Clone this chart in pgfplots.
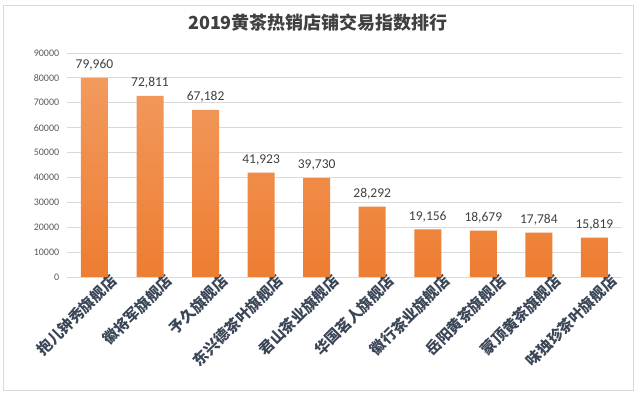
\documentclass[border=0pt]{standalone}
\usepackage{pgfplots}
\pgfplotsset{compat=1.18}
\usepackage{fontspec}
\setmainfont{Carlito}
\newfontfamily\cjk{Noto Sans CJK SC}
\definecolor{txt}{HTML}{404040}
\definecolor{lab}{HTML}{3A4556}
\definecolor{tickc}{HTML}{595959}
\definecolor{gridc}{HTML}{D9D9D9}
\definecolor{otop}{HTML}{F29A5E}
\definecolor{obot}{HTML}{ED7D31}
\begin{document}
\begin{tikzpicture}[x=1pt,y=1pt]
\path[use as bounding box] (0,0) rectangle (640,396);
\draw[gridc] (3,6) rectangle (633,391);
\node[font=\cjk\bfseries\fontsize{18}{21}\selectfont, text=txt] at (318,373) {2019黄茶热销店铺交易指数排行};
\begin{axis}[
  at={(66.7pt,119pt)}, anchor=south west,
  scale only axis, width=555.5pt, height=224pt,
  xmin=-0.5, xmax=9.5, ymin=0, ymax=90000,
  ytick={0,10000,...,90000}, scaled y ticks=false,
  xtick={0,...,9},
  xticklabels={抱儿钟秀旗舰店,徽将军旗舰店,予久旗舰店,东兴德茶叶旗舰店,君山茶业旗舰店,华国茗人旗舰店,徽行茶业旗舰店,岳阳黄茶旗舰店,蒙顶黄茶旗舰店,味独珍茶叶旗舰店},
  axis line style={draw=none},
  major tick length=0pt,
  ymajorgrids, grid style={gridc, line width=0.8pt},
  /pgf/number format/assume math mode=true,
  y tick label style={font=\fontsize{10}{12}\selectfont, text=tickc, /pgf/number format/1000 sep={}, xshift=-4pt},
  x tick label style={font=\cjk\bfseries\fontsize{15}{17}\selectfont, text=lab, rotate=45, anchor=north east, xshift=13pt, yshift=-7pt, inner sep=0pt},
  nodes near coords={\pgfmathprintnumber[1000 sep={,}]{\pgfplotspointmeta}},
  nodes near coords style={font=\fontsize{13.5}{16}\selectfont, text=txt, yshift=4pt},
]
\addplot[ybar, bar width=27pt, draw=none, top color=otop, bottom color=obot] coordinates {
(0,79960) (1,72811) (2,67182) (3,41923) (4,39730) (5,28292) (6,19156) (7,18679) (8,17784) (9,15819)
};
\end{axis}
\end{tikzpicture}
\end{document}
